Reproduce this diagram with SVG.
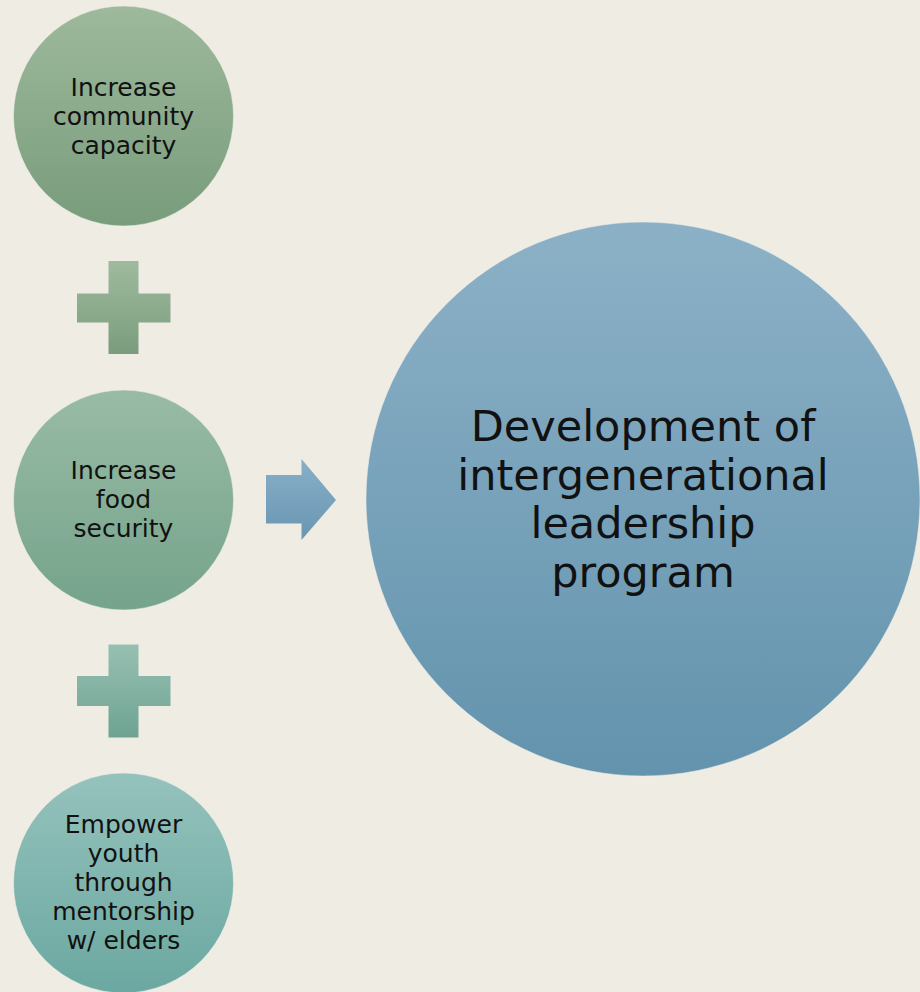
<svg xmlns="http://www.w3.org/2000/svg" width="920" height="992" viewBox="0 0 920 992">
  <defs>
    <linearGradient id="gGreen" x1="0" y1="0" x2="0" y2="1">
      <stop offset="0" stop-color="#9eb99c"/>
      <stop offset="1" stop-color="#789c7c"/>
    </linearGradient>
    <linearGradient id="gSea" x1="0" y1="0" x2="0" y2="1">
      <stop offset="0" stop-color="#99bba5"/>
      <stop offset="1" stop-color="#75a38b"/>
    </linearGradient>
    <linearGradient id="gTeal" x1="0" y1="0" x2="0" y2="1">
      <stop offset="0" stop-color="#95c2bc"/>
      <stop offset="1" stop-color="#6ba8a1"/>
    </linearGradient>
    <linearGradient id="gBlue" x1="0" y1="0" x2="0" y2="1">
      <stop offset="0" stop-color="#8cb1c7"/>
      <stop offset="1" stop-color="#6393ad"/>
    </linearGradient>
    <linearGradient id="gArrow" x1="0" y1="0" x2="0" y2="1">
      <stop offset="0" stop-color="#88afc8"/>
      <stop offset="1" stop-color="#6996b2"/>
    </linearGradient>
    <linearGradient id="gPlus1" x1="0" y1="0" x2="0" y2="1">
      <stop offset="0" stop-color="#9fba9d"/>
      <stop offset="1" stop-color="#7a9d7e"/>
    </linearGradient>
    <linearGradient id="gPlus2" x1="0" y1="0" x2="0" y2="1">
      <stop offset="0" stop-color="#97c0b2"/>
      <stop offset="1" stop-color="#6ea392"/>
    </linearGradient>
  </defs>
  <style>
    .bg { fill: #efece4; }
    .edge { stroke: #f3f1ea; stroke-opacity: 0.5; stroke-width: 1; }
    .lbl { font-family: "DejaVu Sans", "Liberation Sans", sans-serif; font-size: 25px; fill: #111111; text-anchor: middle; }
    .big { font-family: "DejaVu Sans", "Liberation Sans", sans-serif; font-size: 43px; fill: #111111; text-anchor: middle; }
  </style>

  <rect class="bg" x="0" y="0" width="920" height="992"/>

  <!-- input circles -->
  <g id="node-community">
    <circle class="edge" cx="123.5" cy="116" r="110" fill="url(#gGreen)"/>
    <text class="lbl" x="123.5" y="96">Increase</text>
    <text class="lbl" x="123.5" y="125">community</text>
    <text class="lbl" x="123.5" y="154">capacity</text>
  </g>

  <g id="node-food">
    <circle class="edge" cx="123.5" cy="500" r="110" fill="url(#gSea)"/>
    <text class="lbl" x="123.5" y="479">Increase</text>
    <text class="lbl" x="123.5" y="508">food</text>
    <text class="lbl" x="123.5" y="537">security</text>
  </g>

  <g id="node-youth">
    <circle class="edge" cx="123.5" cy="883" r="110" fill="url(#gTeal)"/>
    <text class="lbl" x="123.5" y="833">Empower</text>
    <text class="lbl" x="123.5" y="862">youth</text>
    <text class="lbl" x="123.5" y="891">through</text>
    <text class="lbl" x="123.5" y="920">mentorship</text>
    <text class="lbl" x="123.5" y="949">w/ elders</text>
  </g>

  <!-- result circle -->
  <g id="node-program">
    <circle class="edge" cx="643" cy="499" r="277" fill="url(#gBlue)"/>
    <text class="big" x="643" y="441">Development of</text>
    <text class="big" x="643" y="490">intergenerational</text>
    <text class="big" x="643" y="538">leadership</text>
    <text class="big" x="643" y="587">program</text>
  </g>

  <!-- plus signs and arrow -->
  <g id="connectors">
    <path id="plus-1" fill="url(#gPlus1)" d="M108.5,261 H138.5 V293.5 H170.5 V322.5 H138.5 V354 H108.5 V322.5 H77 V293.5 H108.5 Z"/>
    <path id="plus-2" fill="url(#gPlus2)" d="M108.5,644.5 H138.5 V676 H170.5 V706 H138.5 V737.5 H108.5 V706 H77 V676 H108.5 Z"/>
    <path id="arrow" fill="url(#gArrow)" d="M266,475 H301.5 V459 L336,500 L301.5,540 V523.5 H266 Z"/>
  </g>
</svg>
